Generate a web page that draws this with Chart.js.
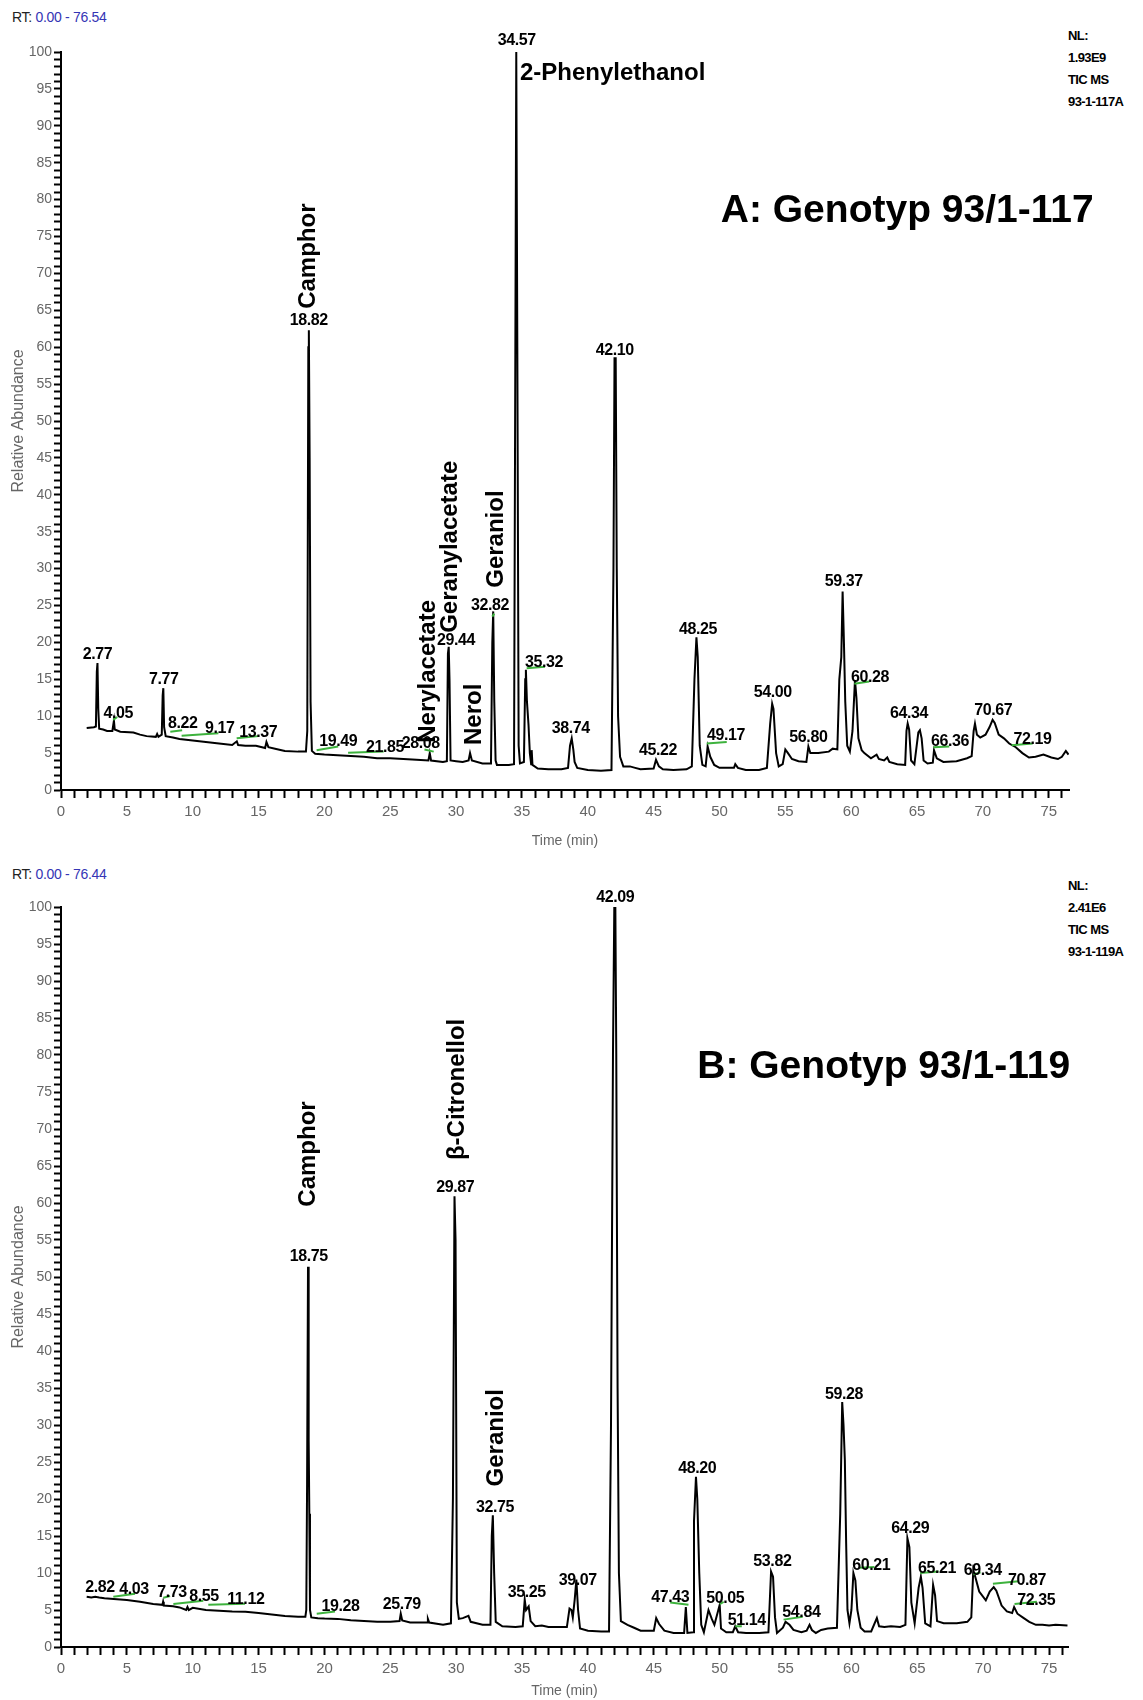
<!DOCTYPE html>
<html>
<head>
<meta charset="utf-8">
<script src="https://cdn.jsdelivr.net/npm/chart.js@4.4.1/dist/chart.umd.min.js"></script>
<style>
  body { margin: 0; background: #fff; width: 1143px; height: 1700px; position: relative; font-family: 'Liberation Sans', Arial, sans-serif; }
  canvas { position: absolute; left: 0; }
  #chartA { top: 0; }
  #chartB { top: 850px; }
  .rt { position: absolute; left: 12px; font-size: 14px; color: #222; letter-spacing: -0.3px; }
  .rt span { color: #3535b5; }
  .nl { position: absolute; left: 1068px; font: bold 13px 'Liberation Sans', Arial, sans-serif; letter-spacing: -0.6px; line-height: 22px; color: #000; }
</style>
</head>
<body>
<div class="rt" style="top:9px">RT: <span>0.00 - 76.54</span></div>
<div class="nl" style="top:25px">NL:<br>1.93E9<br>TIC MS<br>93-1-117A</div>
<canvas id="chartA" width="1143" height="850"></canvas>

<div class="rt" style="top:866px">RT: <span>0.00 - 76.44</span></div>
<div class="nl" style="top:875px">NL:<br>2.41E6<br>TIC MS<br>93-1-119A</div>
<canvas id="chartB" width="1143" height="850"></canvas>

<script>
// ---- data: [time (min), relative abundance] ----
const traceA = [
  [1.95,8.4],[2.5,8.5],[2.65,8.6],[2.72,16],[2.77,17.2],[2.83,11],[2.9,8.3],[3.2,8.2],[3.5,8.0],[3.9,8.0],
  [4.02,9.4],[4.08,8.2],[4.5,7.9],[5.5,7.8],[6.0,7.5],[6.5,7.3],[7.2,7.2],[7.3,7.6],[7.4,7.2],[7.65,7.5],
  [7.72,12.8],[7.77,13.8],[7.83,8.5],[7.95,7.3],[8.5,7.1],[9,6.9],[10,6.7],[11,6.5],[12,6.3],[13,6.1],
  [13.35,6.6],[13.45,6.1],[14,6.0],[14.8,6.0],[15.5,5.7],[15.6,6.5],[15.75,5.8],[16.5,5.5],[17,5.3],[18,5.2],
  [18.6,5.2],[18.7,8.0],[18.78,60],[18.82,62.3],[18.88,45],[18.95,12],[19.05,5.3],[19.3,4.9],[20,4.8],[21,4.7],
  [22,4.6],[23,4.5],[24,4.3],[25,4.3],[26,4.2],[27,4.1],[27.9,4.0],[28.0,5.0],[28.1,4.0],[29,3.8],
  [29.3,3.9],[29.38,18.5],[29.44,19.4],[29.5,15],[29.58,4.0],[30,3.9],[30.5,3.8],[30.95,4.0],[31.06,5.0],[31.2,4.0],
  [32,3.6],[32.65,3.6],[32.75,20],[32.82,24.2],[32.9,12],[33.0,4.0],[33.1,3.4],[34.0,3.4],[34.4,3.5],[34.5,60],
  [34.57,100],[34.65,60],[34.75,6],[34.85,3.6],[35.15,3.8],[35.25,15],[35.3,16.3],[35.38,12],[35.5,8.8],[35.6,5],
  [35.7,3.5],[35.74,5.4],[35.8,3.4],[36.2,2.9],[37,2.8],[38.0,2.8],[38.5,3.0],[38.65,6.0],[38.78,7.0],[38.9,5.5],
  [39.0,3.8],[39.2,3.0],[40,2.7],[41,2.6],[41.8,2.7],[41.95,30],[42.03,58.5],[42.12,58.5],[42.2,30],[42.3,10],
  [42.45,4.5],[42.7,3.2],[43.2,3.2],[43.6,3.0],[44,2.8],[45.0,2.9],[45.18,4.1],[45.4,3.2],[45.7,2.8],[46.5,2.7],
  [47.5,2.8],[47.9,3.2],[48.1,15],[48.25,20.7],[48.35,18],[48.5,6],[48.7,3.4],[48.95,3.2],[49.1,5.9],[49.3,4.5],
  [49.6,3.4],[50,3.0],[51.1,3.0],[51.2,3.5],[51.4,3.0],[52,2.7],[53,2.7],[53.6,3.0],[53.85,9],[54.0,11.7],
  [54.1,11],[54.3,5],[54.5,3.2],[54.8,3.5],[55.0,5.5],[55.2,5.0],[55.5,4.2],[56,3.9],[56.6,3.8],[56.75,5.9],
  [56.9,5.0],[57.5,5.0],[58.3,5.2],[58.6,5.6],[58.95,5.5],[59.1,15],[59.25,18],[59.35,26.9],[59.45,20],[59.55,12],
  [59.7,6],[59.9,5.2],[60.1,8],[60.29,14.9],[60.4,12.5],[60.55,7],[60.8,5.4],[61.0,5.0],[61.5,4.3],[61.93,4.8],
  [62.1,4.2],[62.5,4.0],[62.74,4.4],[62.9,3.8],[63.5,3.5],[64.1,3.4],[64.2,8],[64.29,9.0],[64.4,8.2],[64.55,4],
  [64.8,3.5],[65.1,7.8],[65.22,8.1],[65.35,7],[65.5,4],[65.8,3.6],[66.2,3.7],[66.29,5.4],[66.5,4.3],[67,3.8],
  [68,3.9],[68.8,4.3],[69.15,4.6],[69.3,8],[69.4,9.0],[69.55,7.5],[69.8,7.1],[70.2,7.5],[70.5,8.5],[70.74,9.5],
  [70.9,9.1],[71.2,7.5],[71.6,7.0],[72.0,6.3],[72.5,5.8],[73.0,5.0],[73.5,4.4],[74.0,4.5],[74.6,4.8],[75.2,4.4],
  [75.7,4.2],[76.0,4.5],[76.3,5.3],[76.5,4.8]
];

const traceB = [
  [1.95,6.8],[2.3,6.7],[2.6,6.8],[2.9,6.7],[3.3,6.6],[4,6.5],[5,6.35],[6,6.1],[7,5.8],[7.7,5.7],
  [7.75,6.1],[7.8,5.6],[8.5,5.5],[9,5.35],[9.5,5.0],[9.6,5.4],[9.7,5.0],[10,5.3],[11,5.0],[12,4.9],
  [13,4.8],[14,4.75],[15,4.6],[16,4.4],[17,4.2],[18,4.1],[18.55,4.1],[18.62,5],[18.68,22],[18.75,51.4],
  [18.8,28],[18.85,18],[18.9,5],[19.0,4.0],[19.5,3.9],[20,3.85],[21,3.8],[22,3.6],[23,3.5],[24,3.4],
  [25,3.4],[25.7,3.5],[25.79,4.5],[25.9,3.6],[26.5,3.3],[27,3.3],[27.8,3.3],[27.85,3.8],[27.95,3.3],[29,3.0],
  [29.6,3.2],[29.75,20],[29.87,60.9],[29.95,55],[30.05,6],[30.2,3.8],[30.5,3.9],[30.93,4.2],[31.1,3.4],[32,3.0],
  [32.6,3.0],[32.7,15],[32.78,17.8],[32.88,10],[33.0,3.4],[33.5,2.8],[34.5,2.7],[35.05,2.8],[35.2,6.4],[35.3,5.0],
  [35.5,5.5],[35.65,3.5],[36,2.8],[36.5,2.9],[37,2.7],[38.4,2.7],[38.6,5.2],[38.75,5.0],[38.85,4.0],[39.0,6.5],
  [39.12,9.1],[39.25,5],[39.4,2.5],[40,2.2],[41,2.1],[41.6,2.1],[41.75,30],[41.9,80],[42.0,100],[42.08,100],
  [42.15,80],[42.25,35],[42.35,10],[42.5,3.5],[43.0,3.0],[43.5,2.6],[44,2.2],[45,2.2],[45.18,3.9],[45.4,3.1],
  [45.8,2.2],[46.5,1.9],[47.3,1.9],[47.43,5.4],[47.55,1.9],[48.0,2.0],[48.05,17],[48.2,23.0],[48.3,20],[48.45,10],
  [48.6,3],[48.8,2.0],[49.15,5.0],[49.4,3.8],[49.6,3.0],[50.0,5.7],[50.1,2.5],[50.5,2.0],[51.0,2.0],[51.18,2.8],
  [51.4,2.0],[52,1.9],[53,1.9],[53.7,2.0],[53.9,10.2],[54.05,9.5],[54.2,4],[54.35,1.9],[54.8,2.6],[55.0,3.4],
  [55.3,3.0],[55.6,2.3],[56.2,2.0],[56.6,2.2],[56.82,3.0],[57.0,2.3],[57.3,1.9],[57.7,2.3],[58.2,2.5],[58.9,2.6],
  [59.05,11.8],[59.15,18],[59.3,33.1],[59.4,30],[59.5,25.3],[59.6,14],[59.7,5],[59.85,3.2],[60.0,5],[60.15,10.0],
  [60.3,9],[60.45,5],[60.7,2.6],[61.0,2.1],[61.5,2.1],[61.93,3.9],[62.1,2.8],[62.5,2.7],[63,2.8],[63.7,2.7],
  [64.1,3.0],[64.25,14.7],[64.4,13.5],[64.55,6],[64.8,3.2],[65.1,8.0],[65.27,9.5],[65.4,8],[65.6,3.2],[66.0,2.8],
  [66.2,8.4],[66.35,7],[66.5,3.5],[67,3.2],[68,3.2],[68.8,3.4],[69.1,4.0],[69.25,10.4],[69.4,9.5],[69.7,7.5],
  [70.2,6.3],[70.5,7.5],[70.8,8.1],[71.0,7.6],[71.4,5.6],[71.8,4.8],[72.2,4.6],[72.35,5.4],[72.6,4.5],[73,4.0],
  [73.5,3.4],[74,3.0],[74.5,3.0],[75,2.9],[75.5,3.0],[76.4,2.9]
];

// retention time labels: [text, time, abundance at text baseline]
const rtLabelsA = [
  ['2.77',2.77,17.8],['4.05',4.35,9.7],['7.77',7.8,14.3],['8.22',9.25,8.4],['9.17',12.05,7.7],
  ['13.37',14.98,7.2],['18.82',18.82,63.0],['19.49',21.05,5.9],['21.85',24.6,5.2],['28.08',27.32,5.65],
  ['29.44',30.0,19.6],['32.82',32.57,24.4],['34.57',34.6,100.9],['35.32',36.67,16.7],['38.74',38.71,7.7],
  ['42.10',42.05,59.0],['45.22',45.33,4.7],['48.25',48.37,21.2],['49.17',50.5,6.8],['54.00',54.05,12.6],
  ['56.80',56.75,6.5],['59.37',59.44,27.6],['60.28',61.43,14.7],['64.34',64.39,9.7],['66.36',67.5,5.9],
  ['70.67',70.79,10.2],['72.19',73.77,6.3]
];
const rtLabelsB = [
  ['2.82',2.96,7.5],['4.03',5.54,7.2],['7.73',8.43,6.7],['8.55',10.86,6.25],['11.12',14.03,5.8],
  ['18.75',18.8,52.2],['19.28',21.22,4.8],['25.79',25.87,5.2],['29.87',29.92,61.5],['32.75',32.95,18.3],
  ['35.25',35.36,6.8],['39.07',39.22,8.4],['42.09',42.07,100.7],['47.43',46.24,6.1],['48.20',48.3,23.5],
  ['50.05',50.42,5.9],['51.14',52.06,3.0],['53.82',54.0,10.9],['54.84',56.2,4.1],['59.28',59.44,33.5],
  ['60.21',61.5,10.4],['64.29',64.46,15.4],['65.21',66.49,10.0],['69.34',69.97,9.7],['70.87',73.32,8.4],
  ['72.35',74.03,5.7]
];

// green integration marks: [t1, y1, t2, y2]
const marksA = [
  [3.96,9.5,4.27,9.9],[8.3,7.9,9.2,8.1],[9.16,7.35,11.95,7.7],[13.34,7.0,14.98,7.3],[19.41,5.4,21.05,5.9],
  [21.8,5.05,24.5,5.2],[27.6,5.5,28.3,5.2],[32.75,23.5,32.9,23.9],[35.36,16.5,36.75,16.7],[49.03,6.3,50.55,6.5],
  [60.24,14.4,61.37,14.7],[66.24,5.8,67.45,5.9],[72.18,6.05,73.78,6.3]
];
const marksB = [
  [3.97,6.8,5.62,7.2],[7.77,6.65,8.28,6.9],[8.53,5.8,10.8,6.25],[11.18,5.7,13.97,5.85],[19.41,4.5,20.8,4.8],
  [46.24,6.0,47.63,5.7],[50.0,5.8,50.3,6.1],[51.18,2.8,51.68,2.8],[54.85,3.7,56.3,4.1],[60.62,10.7,61.75,10.8],
  [65.22,10.0,66.61,10.2],[69.26,9.8,69.8,10.1],[70.74,8.55,72.69,8.9],[72.38,5.8,74.08,6.1]
];

// compound names (vertical): [name, time, abundance where text starts]
const namesA = [['Camphor',18.78,65.2],['Nerylacetate',27.86,6.4],['Geranylacetate',29.6,21.3],['Nerol',31.36,6.1],['Geraniol',33.05,27.4]];
const namesB = [['Camphor',18.78,59.5],['β-Citronellol',30.1,65.8],['Geraniol',33.05,21.7]];
// horizontal name + sample title: [text, time, abundance]
const flatA = [['2-Phenylethanol',34.85,96.2]];
const flatB = [];
const titleA = ['A: Genotyp 93/1-117',50.1,77.0];
const titleB = ['B: Genotyp 93/1-119',48.3,76.9];

const rangeA = 76.54;
const rangeB = 76.44;

// draws labels, integration marks and names on top of the trace
const annotate = {
  id: 'annotate',
  afterDatasetsDraw(chart, args, o) {
    const ctx = chart.ctx;
    const px = t => chart.scales.x.getPixelForValue(t);
    const py = v => chart.scales.y.getPixelForValue(v);
    ctx.save();
    ctx.strokeStyle = '#3db23d';
    ctx.lineWidth = 2;
    o.marks.forEach(m => {
      ctx.beginPath();
      ctx.moveTo(px(m[0]), py(m[1]));
      ctx.lineTo(px(m[2]), py(m[3]));
      ctx.stroke();
    });
    ctx.fillStyle = '#000';
    ctx.font = "bold 16px 'Liberation Sans', Arial, sans-serif";
    ctx.letterSpacing = '-0.4px';
    ctx.textAlign = 'center';
    ctx.textBaseline = 'alphabetic';
    o.rt.forEach(r => ctx.fillText(r[0], px(r[1]), py(r[2])));
    ctx.letterSpacing = '0px';
    ctx.font = "bold 24px 'Liberation Sans', Arial, sans-serif";
    ctx.textAlign = 'left';
    ctx.textBaseline = 'middle';
    o.names.forEach(n => {
      ctx.save();
      ctx.translate(px(n[1]), py(n[2]));
      ctx.rotate(-Math.PI / 2);
      ctx.fillText(n[0], 0, 0);
      ctx.restore();
    });
    ctx.textBaseline = 'alphabetic';
    o.flat.forEach(f => ctx.fillText(f[0], px(f[1]), py(f[2])));
    ctx.font = "bold 39px 'Liberation Sans', Arial, sans-serif";
    ctx.fillText(o.title[0], px(o.title[1]), py(o.title[2]));
    ctx.restore();
  }
};

function makeChart(id, trace, xMax, extra, padTop, padRight, xAxisH, xTitlePad) {
  return new Chart(document.getElementById(id), {
    type: 'line',
    data: {
      datasets: [{
        data: trace.map(p => ({ x: p[0], y: p[1] })),
        borderColor: '#000',
        borderWidth: 2,
        pointRadius: 0,
        tension: 0
      }]
    },
    options: {
      responsive: false,
      animation: false,
      layout: { padding: { top: padTop, right: padRight, left: 0, bottom: 0 } },
      plugins: { legend: { display: false }, tooltip: { enabled: false }, annotate: extra },
      scales: {
        x: {
          type: 'linear', min: 0, max: xMax,
          afterBuildTicks: s => { s.ticks = []; for (let v = 0; v <= 76; v++) s.ticks.push({ value: v }); },
          afterFit: s => { s.height = xAxisH; },
          ticks: { autoSkip: false, maxRotation: 0, padding: 5, color: '#666', font: { size: 15, family: "'Liberation Sans', Arial" },
                   callback: v => (v % 5 === 0 ? v : '') },
          grid: { drawOnChartArea: false, drawTicks: true, tickLength: 8, tickColor: '#000', tickWidth: 2 },
          border: { display: true, color: '#000', width: 2 },
          title: { display: true, text: 'Time (min)', color: '#666', font: { size: 14, family: "'Liberation Sans', Arial" }, padding: { top: xTitlePad, bottom: 0 } }
        },
        y: {
          min: 0, max: 100,
          afterBuildTicks: s => { s.ticks = []; for (let v = 0; v <= 100; v++) s.ticks.push({ value: v }); },
          afterFit: s => { s.width = 61; },
          ticks: { autoSkip: false, padding: 2, color: '#666', font: { size: 14, family: "'Liberation Sans', Arial" },
                   callback: v => (v % 5 === 0 ? v : '') },
          grid: { drawOnChartArea: false, drawTicks: true, tickLength: 7, tickColor: '#000', tickWidth: 2 },
          border: { display: true, color: '#000', width: 2 },
          title: { display: true, text: 'Relative Abundance', color: '#666', font: { size: 16, family: "'Liberation Sans', Arial" }, padding: { top: 9, bottom: 0 } }
        }
      }
    },
    plugins: [annotate]
  });
}

makeChart('chartA', traceA, rangeA, { rt: rtLabelsA, marks: marksA, names: namesA, flat: flatA, title: titleA }, 52, 74, 60, 12);
makeChart('chartB', traceB, rangeB, { rt: rtLabelsB, marks: marksB, names: namesB, flat: flatB, title: titleB }, 57, 75, 53, 3);
</script>
</body>
</html>
